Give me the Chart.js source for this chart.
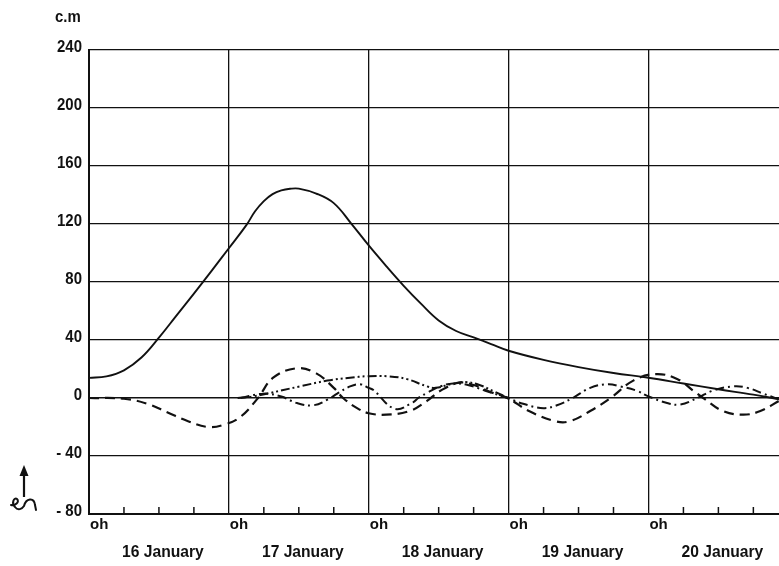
<!DOCTYPE html>
<html>
<head>
<meta charset="utf-8">
<script src="https://cdn.jsdelivr.net/npm/chart.js@4/dist/chart.umd.min.js"></script>
<style>
  html, body { margin: 0; padding: 0; background: #fff; }
  #wrap { width: 779px; height: 566px; position: relative; }
</style>
</head>
<body>
<div id="wrap"><canvas id="c" width="779" height="566"></canvas></div>
<script>
// Time axis in hours from 16 January 0h
const dayStarts = [0, 24, 48, 72, 96];
const dayLabels = ['16 January', '17 January', '18 January', '19 January', '20 January'];
const hourLabel = 'oh';
const yTickValues = [240, 200, 160, 120, 80, 40, 0, -40, -80];
const yTickLabels = ['240', '200', '160', '120', '80', '40', '0', '- 40', '- 80'];
const unitLabel = 'c.m';

// Total surge (solid)
const totalHours  = [0, 3, 6, 9, 12, 15, 18, 21, 24, 27, 28.5, 30, 31.5, 33, 34.5, 36, 39, 42, 45, 48, 51, 54, 57, 60, 63, 66, 69, 72, 78, 84, 90, 96, 102, 108, 114, 118.4];
const totalValues = [13.9, 14.9, 19.1, 27.9, 41.6, 56.8, 72, 87.5, 103.3, 119.2, 128.8, 135.8, 140.6, 143.2, 144.3, 144.4, 141, 134.4, 120.3, 105.2, 91, 77.4, 64.9, 53.5, 46.2, 41.8, 37.2, 32.6, 26.3, 21.3, 17.2, 14, 10, 6, 2.3, -0.8];

// First oscillation (dashed)
const dashHours  = [0, 6, 10, 13.5, 17, 20.5, 23.5, 26, 29, 31.6, 35.7, 39, 42, 43.6, 46, 48, 51, 55, 58, 60.3, 63.5, 66, 69, 71.8, 75.5, 80, 82.5, 86, 89.5, 93.4, 97.3, 101, 103.7, 105.4, 108.8, 112.3, 115.2, 118.4];
const dashValues = [0, -0.5, -4, -10, -16, -20, -18, -13, 0, 14, 20.5, 17, 7, 0, -7, -10.5, -11.5, -9, -2, 5, 10.5, 9, 4, 0, -9, -16, -16, -9, 0, 12, 16.5, 13, 5, 0, -9, -11.5, -9, -2];

// Second oscillation (dash-dot)
const dotHours  = [26, 30, 33, 35.7, 38.5, 41, 42.6, 44.8, 46.5, 48, 48.8, 52.5, 55.6, 56.5, 58, 60.3, 62.5, 65, 68, 71.8, 74.5, 78, 80.3, 83, 86, 89, 91.2, 94, 95.8, 99.2, 101.5, 104.4, 107, 110.5, 113, 115.7, 118.4];
const dotValues = [0, 3, 1, -3.5, -5, -1, 3, 8, 9.5, 7, 5.5, -7.5, -3, 0, 3.5, 8, 10, 9, 5, 0, -4, -7, -5, 0, 7, 9.5, 8, 5, 1.5, -3.5, -4.5, 0, 5, 8, 7, 3, -1];

// Third oscillation (dash-dot-dot)
const dot2Hours  = [25.5, 28, 30.5, 36.2, 40.9, 44.8, 47.7, 51.2, 54.6, 58, 59.5, 62, 64.5, 67, 69.5, 72];
const dot2Values = [0, 1, 3, 8, 12, 14, 15, 15, 13, 8, 7, 9.5, 11, 9, 4.5, 0];

const toPoints = (xs, ys) => xs.map((x, i) => ({ x, y: ys[i] }));

const INK = '#111';
const FONT = "'Liberation Sans', Arial, sans-serif";

// draw text squeezed horizontally to mimic narrow stencil lettering
function narrowText(ctx, text, x, y, squeeze) {
  ctx.save();
  ctx.translate(x, y);
  ctx.scale(squeeze, 1);
  ctx.fillText(text, 0, 0);
  ctx.restore();
}

const decorPlugin = {
  id: 'decor',
  afterDraw(chart) {
    const { ctx, chartArea, scales } = chart;
    const xs = scales.x, ys = scales.y;
    ctx.save();
    ctx.fillStyle = INK;
    ctx.strokeStyle = INK;

    // minor 6-hour ticks on the time axis
    ctx.lineWidth = 1.5;
    for (let h = 6; h < xs.max; h += 6) {
      if (h % 24 === 0) continue;
      const px = xs.getPixelForValue(h);
      ctx.beginPath();
      ctx.moveTo(px, chartArea.bottom);
      ctx.lineTo(px, chartArea.bottom - 7);
      ctx.stroke();
    }

    // value labels
    ctx.font = 'bold 17px ' + FONT;
    ctx.textAlign = 'right';
    ctx.textBaseline = 'middle';
    yTickValues.forEach((v, i) => {
      narrowText(ctx, yTickLabels[i], chartArea.left - 7, ys.getPixelForValue(v) - 3, 0.88);
    });

    // unit
    ctx.textAlign = 'left';
    ctx.font = 'bold 17px ' + FONT;
    narrowText(ctx, unitLabel, 55, 17, 0.88);

    // hour labels and day names
    dayStarts.forEach((h, i) => {
      const px = xs.getPixelForValue(h);
      ctx.font = 'bold 15px ' + FONT;
      ctx.textAlign = 'left';
      ctx.textBaseline = 'top';
      ctx.fillText(hourLabel, px + 1, chartArea.bottom + 3);
      ctx.font = 'bold 17px ' + FONT;
      ctx.textAlign = 'center';
      ctx.textBaseline = 'alphabetic';
      narrowText(ctx, dayLabels[i], xs.getPixelForValue(h + 12) + 4, 557, 0.92);
    });

    // upward arrow with a squiggle beneath (direction mark)
    ctx.lineWidth = 2.2;
    ctx.beginPath();
    ctx.moveTo(24, 497);
    ctx.lineTo(24, 474);
    ctx.stroke();
    ctx.beginPath();
    ctx.moveTo(24, 465);
    ctx.lineTo(19.5, 476);
    ctx.lineTo(28.5, 476);
    ctx.closePath();
    ctx.fill();

    ctx.lineWidth = 2;
    ctx.lineCap = 'round';
    ctx.beginPath();
    ctx.moveTo(11, 505);
    ctx.bezierCurveTo(15, 506, 20, 502, 17, 499);
    ctx.bezierCurveTo(14, 497, 11, 503, 15, 507);
    ctx.bezierCurveTo(18, 511, 22, 509, 24, 506);
    ctx.bezierCurveTo(26, 498, 34, 497, 35, 505);
    ctx.lineTo(36, 510);
    ctx.stroke();
    ctx.restore();
  }
};

new Chart(document.getElementById('c'), {
  type: 'line',
  data: {
    datasets: [
      { data: toPoints(totalHours, totalValues), borderColor: INK, borderWidth: 1.9 },
      { data: toPoints(dashHours, dashValues), borderColor: INK, borderWidth: 2.2, borderDash: [10, 6] },
      { data: toPoints(dotHours, dotValues), borderColor: INK, borderWidth: 2, borderDash: [9, 4, 2, 4] },
      { data: toPoints(dot2Hours, dot2Values), borderColor: INK, borderWidth: 2, borderDash: [9, 3, 2, 3, 2, 3] }
    ]
  },
  options: {
    responsive: false,
    animation: false,
    devicePixelRatio: 1,
    layout: { padding: { top: 50, right: 0, left: 0, bottom: 0 } },
    elements: {
      point: { radius: 0 },
      line: { tension: 0.4, fill: false }
    },
    plugins: { legend: { display: false }, tooltip: { enabled: false } },
    scales: {
      x: {
        type: 'linear',
        min: 0,
        max: 118.4,
        afterFit: s => { s.height = 52; },
        ticks: { display: false, stepSize: 6 },
        grid: {
          drawTicks: false,
          lineWidth: 1.3,
          color: c => (c.tick && c.tick.value % 24 === 0) ? INK : 'rgba(0,0,0,0)'
        },
        border: { display: true, color: INK, width: 2 }
      },
      y: {
        min: -80,
        max: 240,
        afterFit: s => { s.width = 89; },
        ticks: { display: false, stepSize: 40 },
        grid: {
          drawTicks: false,
          lineWidth: c => (c.tick && c.tick.value === 0) ? 1.6 : 1.3,
          color: INK
        },
        border: { display: true, color: INK, width: 2 }
      }
    }
  },
  plugins: [decorPlugin]
});
</script>
</body>
</html>
